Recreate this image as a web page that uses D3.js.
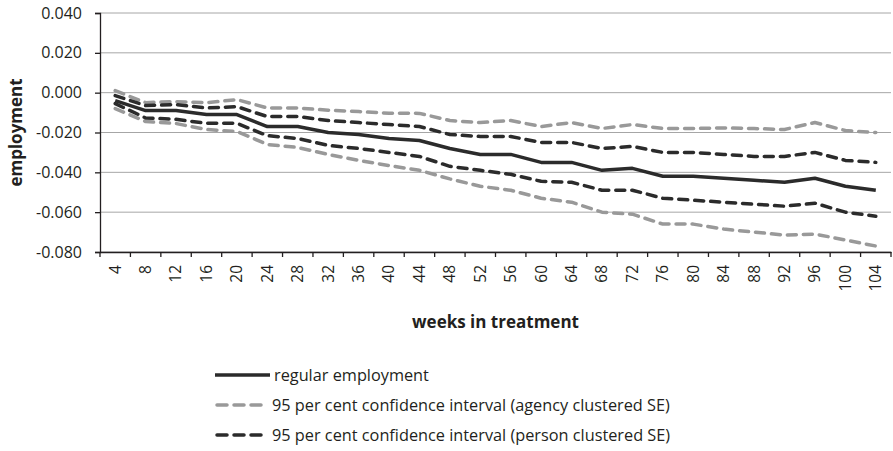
<!DOCTYPE html>
<html>
<head>
<meta charset="utf-8">
<script src="https://cdn.jsdelivr.net/npm/d3@7"></script>
<style>
  body { margin: 0; background: #fff; }
  svg text { font-family: "Open Sans", sans-serif; fill: #231f20; }
</style>
</head>
<body>
<svg width="893" height="451"></svg>
<script>
const weeks = [4, 8, 12, 16, 20, 24, 28, 32, 36, 40, 44, 48, 52, 56, 60, 64, 68, 72, 76, 80, 84, 88, 92, 96, 100, 104];

const regular = [-0.004, -0.009, -0.009, -0.011, -0.011, -0.017, -0.017, -0.020, -0.021, -0.023, -0.024, -0.028, -0.031, -0.031,
  -0.035, -0.035, -0.039, -0.038, -0.042, -0.042, -0.043, -0.044, -0.045, -0.043, -0.047, -0.049];

const agencyUpper = [0.001, -0.005, -0.0045, -0.005, -0.0035, -0.0077, -0.0077, -0.0088, -0.0095, -0.0103, -0.0104, -0.014, -0.015, -0.014,
  -0.017, -0.015, -0.018, -0.016, -0.018, -0.018, -0.0177, -0.018, -0.0185, -0.015, -0.019, -0.020];
const agencyLower = [-0.008, -0.0145, -0.0155, -0.0185, -0.0195, -0.026, -0.0275, -0.031, -0.034, -0.0366, -0.039, -0.0433, -0.047, -0.049,
  -0.053, -0.055, -0.060, -0.061, -0.066, -0.066, -0.0685, -0.070, -0.0715, -0.071, -0.074, -0.077];

const personUpper = [-0.0015, -0.0065, -0.006, -0.0077, -0.007, -0.012, -0.012, -0.014, -0.015, -0.016, -0.017, -0.021, -0.022, -0.022,
  -0.025, -0.025, -0.028, -0.027, -0.030, -0.030, -0.031, -0.032, -0.032, -0.030, -0.034, -0.035];
const personLower = [-0.0055, -0.0127, -0.0134, -0.0154, -0.0154, -0.0216, -0.023, -0.0265, -0.028, -0.030, -0.032, -0.037, -0.039, -0.041,
  -0.0445, -0.045, -0.049, -0.049, -0.053, -0.054, -0.055, -0.056, -0.057, -0.0555, -0.060, -0.062];

const yTicks = [-0.08, -0.06, -0.04, -0.02, 0, 0.02, 0.04];

const legendLabels = [
  "regular employment",
  "95 per cent confidence interval (agency clustered SE)",
  "95 per cent confidence interval (person clustered SE)"
];

const svg = d3.select("svg");
const margin = { left: 100, right: 2, top: 13, bottom: 199 };
const W = 893, H = 451;

const x = d3.scaleBand()
  .domain(weeks)
  .range([margin.left, W - margin.right])
  .padding(0);

const y = d3.scaleLinear()
  .domain([-0.08, 0.04])
  .range([H - margin.bottom, margin.top]);

// gridlines
svg.append("g")
  .selectAll("line")
  .data(yTicks)
  .enter()
  .append("line")
  .attr("x1", margin.left)
  .attr("x2", W - margin.right)
  .attr("y1", d => y(d))
  .attr("y2", d => y(d))
  .attr("stroke", "#a6a6a6")
  .attr("stroke-width", 1);

// y axis (plain hyphen for negatives, like the original)
const fmt = d => d3.format(".3f")(d).replace("\u2212", "-");
const yAxis = svg.append("g")
  .attr("transform", `translate(${margin.left},0)`)
  .call(d3.axisLeft(y).tickValues(yTicks).tickFormat(fmt).tickSize(5).tickPadding(13));
yAxis.select(".domain").attr("stroke", "#231f20").attr("stroke-width", 1.3);
yAxis.selectAll(".tick line").attr("stroke", "#231f20").attr("stroke-width", 1.3);
yAxis.selectAll("text").style("font-size", "16px").style("fill", "#231f20");

// x axis
const xAxis = svg.append("g")
  .attr("transform", `translate(0,${y(-0.08)})`)
  .call(d3.axisBottom(x).tickSize(0));
xAxis.select(".domain").attr("stroke", "#231f20").attr("stroke-width", 1.3);
xAxis.selectAll(".tick text")
  .attr("transform", "rotate(-90)")
  .attr("text-anchor", "end")
  .attr("x", -13)
  .attr("y", 0)
  .attr("dy", "0.35em")
  .style("font-size", "15.5px")
  .style("fill", "#231f20");

// x tick marks at category boundaries
const boundaries = weeks.map(w => x(w)).concat([x(weeks[weeks.length - 1]) + x.bandwidth()]);
xAxis.selectAll(".bound")
  .data(boundaries)
  .enter()
  .append("line")
  .attr("x1", d => d)
  .attr("x2", d => d)
  .attr("y1", 0)
  .attr("y2", 5)
  .attr("stroke", "#231f20")
  .attr("stroke-width", 1.3);

// axis titles
svg.append("text")
  .attr("transform", `translate(16,${(y(0.04) + y(-0.08)) / 2}) rotate(-90)`)
  .attr("text-anchor", "middle")
  .attr("dy", "0.35em")
  .style("font-size", "17px")
  .style("font-weight", "bold")
  .text("employment");

svg.append("text")
  .attr("x", x(weeks[0]) + (x(weeks[weeks.length - 1]) + x.bandwidth() - x(weeks[0])) / 2)
  .attr("y", 328)
  .attr("text-anchor", "middle")
  .style("font-size", "17px")
  .style("font-weight", "bold")
  .text("weeks in treatment");

// series lines
const line = d3.line()
  .x((d, i) => x(weeks[i]) + x.bandwidth() / 2)
  .y(d => y(d));

const series = [
  { values: agencyUpper, color: "#999999", dash: "9,7" },
  { values: agencyLower, color: "#999999", dash: "9,7" },
  { values: personUpper, color: "#2b2b2b", dash: "9,7" },
  { values: personLower, color: "#2b2b2b", dash: "9,7" },
  { values: regular, color: "#2b2b2b", dash: null }
];

svg.append("g")
  .selectAll("path")
  .data(series)
  .enter()
  .append("path")
  .attr("d", d => line(d.values))
  .attr("fill", "none")
  .attr("stroke", d => d.color)
  .attr("stroke-width", 3.5)
  .attr("stroke-linecap", d => d.dash ? "round" : "butt")
  .attr("stroke-linejoin", "round")
  .attr("stroke-dasharray", d => d.dash);

// legend
const legendItems = [
  { label: legendLabels[0], color: "#2b2b2b", dash: null, x1: 215, x2: 270, tx: 274 },
  { label: legendLabels[1], color: "#999999", dash: "10,7", x1: 217, x2: 262, tx: 272 },
  { label: legendLabels[2], color: "#2b2b2b", dash: "10,7", x1: 217, x2: 262, tx: 272 }
];

const legend = svg.append("g")
  .selectAll("g")
  .data(legendItems)
  .enter()
  .append("g")
  .attr("transform", (d, i) => `translate(0,${375 + i * 30})`);

legend.append("line")
  .attr("x1", d => d.x1)
  .attr("x2", d => d.x2)
  .attr("y1", 0)
  .attr("y2", 0)
  .attr("stroke", d => d.color)
  .attr("stroke-width", 3.5)
  .attr("stroke-linecap", d => d.dash ? "round" : "butt")
  .attr("stroke-dasharray", d => d.dash);

legend.append("text")
  .attr("x", d => d.tx)
  .attr("y", 0)
  .attr("dy", "0.35em")
  .style("font-size", "16.3px")
  .text(d => d.label);
</script>
</body>
</html>
